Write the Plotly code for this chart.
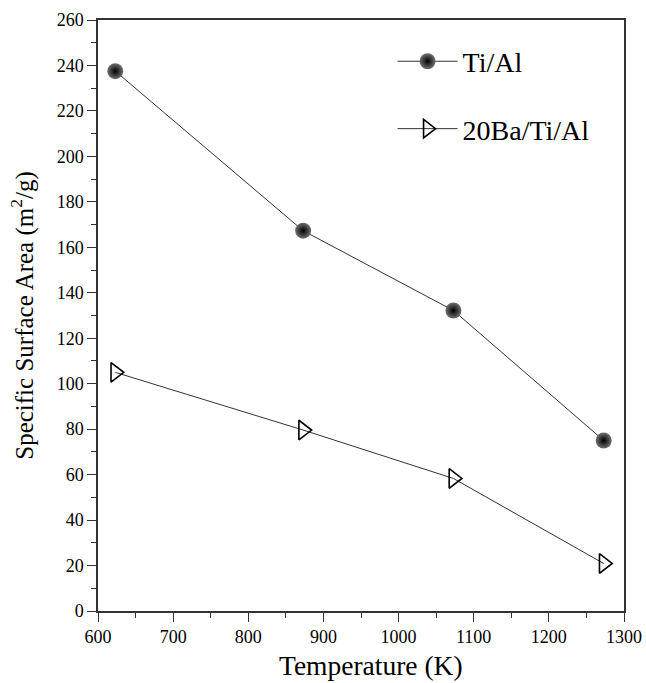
import plotly.graph_objects as go

# Calcination temperature (K) and BET specific surface area (m2/g)
temperature = [623, 873, 1073, 1273]
ti_al = [237.5, 167.3, 132.2, 75.0]
ba_ti_al = [105.0, 79.6, 58.3, 20.9]

x_ticks = [600, 700, 800, 900, 1000, 1100, 1200, 1300]
y_ticks = [0, 20, 40, 60, 80, 100, 120, 140, 160, 180, 200, 220, 240, 260]

FONT = "Liberation Serif"
LINE = "#333333"
TICK_FONT = dict(family=FONT, size=18, color="#000000")

fig = go.Figure()

fig.add_trace(go.Scatter(
    x=temperature, y=ti_al, name="Ti/Al", mode="lines+markers",
    legendgroup="a",
    line=dict(color=LINE, width=1),
    marker=dict(symbol="circle", size=16, color="#707070",
                gradient=dict(type="radial", color="#000000"),
                line=dict(width=0)),
))

fig.add_trace(go.Scatter(
    x=temperature, y=ba_ti_al, name="20Ba/Ti/Al", mode="lines+markers",
    legendgroup="b",
    line=dict(color=LINE, width=1),
    marker=dict(symbol="triangle-right-open", size=17, color="#000000",
                line=dict(width=1.6, color="#000000")),
))

fig.update_layout(
    width=646, height=683,
    margin=dict(l=98, r=22, t=20, b=72),
    paper_bgcolor="white", plot_bgcolor="white",
    font=dict(family=FONT, size=18, color="#000000"),
    xaxis=dict(
        range=[600, 1300], tickmode="array", tickvals=x_ticks,
        ticktext=[str(v) for v in x_ticks], tickfont=TICK_FONT,
        showline=True, linecolor=LINE, linewidth=1.5, mirror=True,
        showgrid=False, zeroline=False, automargin=False,
        ticks="outside", ticklen=9, tickwidth=1.2, tickcolor=LINE,
        minor=dict(ticks="outside", ticklen=5, tickwidth=1.2, tickcolor=LINE, dtick=50),
    ),
    yaxis=dict(
        range=[0, 260], tickmode="array", tickvals=y_ticks,
        ticktext=[str(v) for v in y_ticks], tickfont=TICK_FONT,
        showline=True, linecolor=LINE, linewidth=1.5, mirror=True,
        showgrid=False, zeroline=False, automargin=False,
        ticks="outside", ticklen=9, tickwidth=1.2, tickcolor=LINE,
        minor=dict(ticks="outside", ticklen=5, tickwidth=1.2, tickcolor=LINE, dtick=10),
        title=dict(text="Specific Surface Area (m<sup>2</sup>/g)",
                   font=dict(family=FONT, size=25, color="#000000"), standoff=16),
    ),
    showlegend=True,
    legend=dict(x=0.56, y=0.972, xanchor="left", yanchor="top",
                bgcolor="rgba(0,0,0,0)", tracegroupgap=28,
                font=dict(family=FONT, size=28, color="#000000"),
                itemwidth=60),
)

# x-axis title
fig.add_annotation(
    text="Temperature (K)", xref="paper", yref="paper", x=0.519, y=-0.092,
    xanchor="center", yanchor="middle", showarrow=False,
    font=dict(family=FONT, size=27.5, color="#000000"),
)

fig.write_html("out.html")
